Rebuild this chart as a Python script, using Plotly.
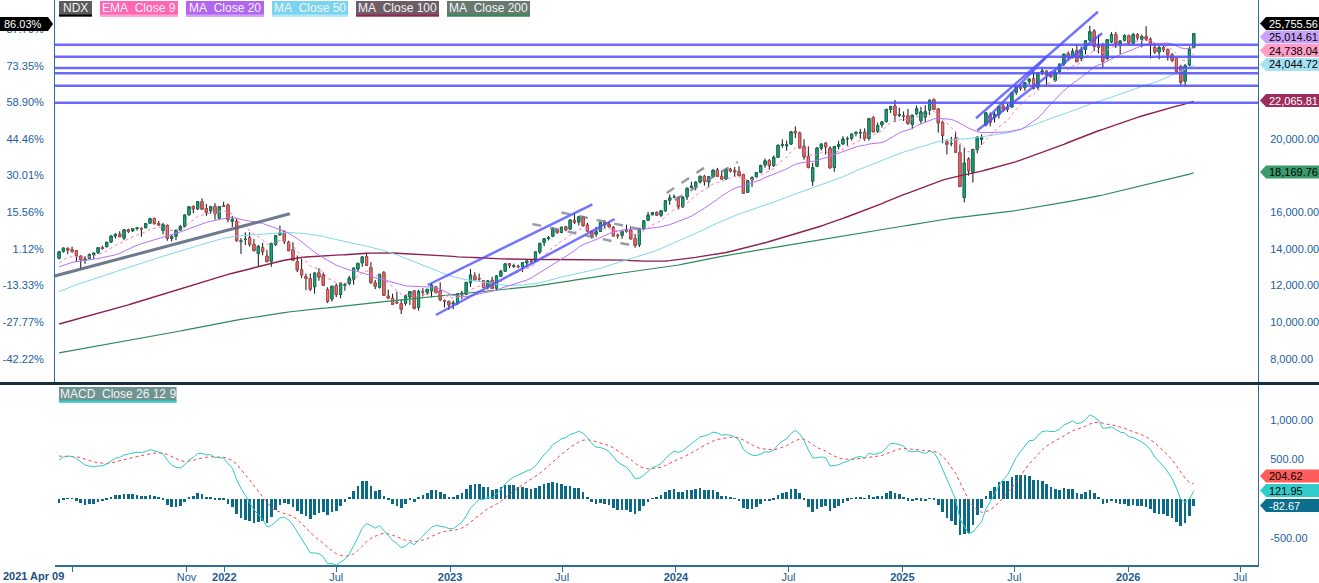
import plotly.graph_objects as go
import pandas as pd

# ---------------- data ----------------
FIRST_DATE = "2021-04-09"

# weekly closes before the visible window (indicator warm-up), 2017-06-16 .. 2021-04-02
history_closes = [
    5680, 5780, 5650, 5690, 5880, 5960, 5930, 5920, 5830, 5790, 5840, 5990, 5930, 6010, 5960, 5990,
    6080, 6110, 6100, 6290, 6330, 6340, 6320, 6420, 6290, 6330, 6440, 6450, 6400,
    6650, 6770, 6830, 7010, 6700, 6410, 6820, 6900, 6910, 7150, 7020, 6520, 6580, 6430, 6650, 6690,
    6700, 6830, 6970, 6930, 6990, 7110, 7150, 7250, 7180, 7040, 7250, 7370, 7350, 7160, 7350, 7340,
    7300, 7410, 7620, 7430, 7490, 7460, 7630, 7360, 7050, 6980, 6680, 6860, 6870, 6720, 6500, 6950,
    6610, 6550, 6060, 6330,
    6480, 6630, 6800, 6750, 6850, 6890, 7010, 7080, 7120, 6910, 7270, 7200, 7380, 7560, 7630, 7660,
    7830, 7840, 7560, 7490, 7330, 7130, 7440, 7460, 7630, 7670, 7820, 7940, 7850, 7980, 7640, 7620,
    7570, 7440, 7660, 7810, 7840, 7820, 7690, 7730, 7870, 7850, 8000, 8170, 8230, 8390, 8340, 8410,
    8430, 8520, 8720, 8760,
    8790, 8950, 9160, 9090, 8990, 9400, 9620, 9450, 8460, 8530, 7880, 6990, 7500, 7530, 8230, 8830,
    8780, 8720, 9120, 9150, 9330, 9560, 9820, 9590, 10030, 9850, 10340, 10770, 10670, 10460, 10900,
    11140, 11180, 11630, 12110, 11620, 11090, 10940, 11150, 11250, 11850, 11850, 11650, 11050, 12020,
    11940, 11900, 12260, 12470, 12380, 12750, 12800,
    12890, 13100, 12800, 13370, 12920, 13610, 13800, 13540, 12910, 12670, 12890, 12920, 12980, 13480,
]

opens = [
    # 2021
    13480, 13870, 14030, 13960, 13900, 13600, 13380, 13480, 13690, 13790, 14070, 14120, 14370, 14700,
    14800, 14580, 15040, 14990, 15110, 15120, 15150, 15400, 15660, 15380, 15000, 15280, 14560, 14690,
    15030, 15240, 15860, 16310, 16190, 16580, 16200, 16080, 16320, 15680, 16350,
    # 2022
    16400, 15500, 15500, 14400, 14520, 14600, 14250, 13750, 14060, 13600, 13320, 14240, 14780, 14950,
    14350, 13950, 13300, 12850, 12480, 12370, 11930, 12690, 12560, 11770, 11260, 11990, 11510, 12000,
    12110, 12340, 12900, 13240, 13580, 12980, 12140, 11900, 12700, 11410, 11300, 11080, 11000, 11030,
    11370, 11700, 10800, 11650, 11620, 11700, 11920, 11700, 11180, 11130,
    # 2023
    11000, 11050, 11520, 11520, 12150, 12520, 12380, 12260, 11920, 12280, 11850, 12510, 12780, 13180,
    13050, 13050, 13020, 13240, 13350, 13350, 13830, 14340, 14560, 14690, 15040, 14900, 15200, 15080,
    15560, 15460, 15750, 15300, 14950, 14800, 14960, 15440, 15340, 15180, 14740, 14740, 14970, 15010,
    14560, 14230, 15110, 15560, 15860, 15990, 15830, 16080, 16650, 16820,
    # 2024
    16820, 16290, 16840, 17350, 17420, 17650, 17960, 17660, 17940, 18300, 17960, 17820, 18340, 18280,
    18230, 18050, 17090, 17770, 17940, 18180, 18590, 18820, 18550, 19000, 19660, 19630, 19720, 20420,
    20330, 19600, 19050, 17700, 18510, 19500, 19770, 19500, 18450, 19590, 19730, 20020, 20040, 20300,
    20330, 20380, 20030, 21170, 20430, 20780, 20950, 21620, 21800, 21300,
    # 2025
    21250, 21270, 20800, 21380, 21000, 21200, 21580, 22150, 21640, 20900, 19850, 19750, 20050, 19260,
    16800, 18900, 18170, 19430, 19980, 20780, 21300, 21190, 21330, 21800, 21720, 21750, 22540, 22830,
    22800, 23140, 23300, 22830, 23650, 23710, 23520, 23200, 23700, 24100, 24660, 24520, 24830, 24400,
    24890, 25400, 25900, 25150, 25100, 24400, 25300, 25700, 25200, 25400,
    # 2026
    25640, 25230, 25700, 25450, 25600, 25450, 25000, 24750, 25000, 24880, 24600, 24400, 23950, 23150,
    24050, 25000,
]

highs = [
    13850, 14060, 14070, 14120, 13920, 13640, 13600, 13750, 13780, 14080, 14170, 14380, 14720, 14850,
    14960, 15080, 15100, 15110, 15170, 15170, 15390, 15700, 15700, 15520, 15420, 15330, 14750, 15040,
    15310, 15860, 16340, 16380, 16570, 16760, 16450, 16310, 16500, 16330, 16570,
    16470, 15790, 15640, 14590, 14900, 14900, 14540, 14200, 14330, 13950, 14310, 14760, 15270, 15010,
    14440, 14360, 13640, 13470, 12650, 12650, 12690, 12940, 12700, 11900, 11960, 12110, 12170, 12140,
    12530, 12950, 13210, 13560, 13720, 13270, 12300, 12620, 12790, 11770, 11550, 11660, 11230, 11440,
    11700, 11750, 11760, 11850, 11800, 12120, 11980, 12170, 11230, 11170,
    11180, 11560, 11710, 12190, 12900, 12720, 12650, 12300, 12270, 12470, 12560, 12860, 13190, 13220,
    13190, 13140, 13270, 13350, 13430, 13840, 14320, 14590, 14700, 15190, 15120, 15200, 15260, 15620,
    15930, 15760, 15800, 15420, 15010, 15200, 15440, 15560, 15480, 15240, 14840, 15000, 15320, 15230,
    14800, 15110, 15540, 16020, 16020, 16050, 16110, 16660, 16970, 16970,
    16840, 16840, 17340, 17670, 17690, 18000, 18040, 17980, 18310, 18420, 18270, 18420, 18420, 18470,
    18510, 18100, 17760, 17960, 18190, 18600, 18930, 18910, 19090, 19680, 19980, 19910, 20400, 20690,
    20400, 19990, 19600, 18700, 19530, 19760, 19830, 19600, 19630, 19900, 20150, 20140, 20300, 20420,
    20550, 20580, 21130, 21250, 20900, 20980, 21630, 21790, 22130, 21710,
    21500, 21640, 21310, 21830, 21760, 21840, 22140, 22220, 21700, 21000, 19990, 20120, 20400, 19700,
    19500, 19000, 19460, 20140, 20250, 21450, 21450, 21480, 21810, 21910, 21940, 22560, 22890, 22900,
    23090, 23310, 23720, 23660, 23920, 23730, 23700, 23700, 24100, 24650, 24780, 24950, 25150, 25050,
    25380, 26180, 26000, 25700, 25250, 25450, 25830, 25850, 25400, 25720,
    25700, 25800, 25780, 25700, 26160, 25550, 25250, 25100, 25100, 24950, 24700, 24450, 24050, 24100,
    25050, 25780,
]

lows = [
    13420, 13790, 13710, 13780, 13290, 12930, 13180, 13450, 13450, 13720, 13950, 14080, 14330, 14560,
    14650, 14470, 14860, 14920, 15000, 14660, 15130, 15390, 15350, 15240, 14790, 14440, 14400, 14470,
    15000, 15170, 15820, 15950, 16120, 16150, 15800, 15920, 15590, 15600, 16300,
    15450, 15200, 14400, 13720, 14200, 14120, 13860, 13020, 13650, 13280, 13020, 14150, 14700, 14270,
    13870, 13370, 12730, 12410, 11740, 11690, 11550, 12260, 11980, 11040, 11130, 11370, 11300, 11710,
    12010, 12040, 12780, 13020, 13090, 12140, 11800, 11830, 11490, 11250, 10970, 11020, 10440, 10900,
    10940, 10690, 10620, 11400, 11480, 11350, 11580, 11150, 10800, 10670,
    10700, 10930, 11250, 11470, 11920, 12240, 12260, 11880, 11780, 11830, 11750, 12450, 12740, 12960,
    12950, 12940, 12730, 12990, 13170, 13270, 13720, 14150, 14460, 14640, 14820, 14850, 14960, 15060,
    15360, 15280, 15200, 14950, 14560, 14650, 14930, 15090, 15180, 14720, 14560, 14550, 14880, 14540,
    14060, 14100, 15030, 15530, 15850, 15800, 15730, 16030, 16400, 16780,
    16170, 16230, 16670, 17290, 17200, 17570, 17450, 17350, 17890, 17960, 17800, 17770, 18170, 17960,
    17970, 17010, 17080, 17380, 17920, 18130, 18430, 18320, 18470, 18990, 19520, 19360, 19680, 20050,
    19460, 18870, 18400, 17430, 18460, 19380, 19150, 18400, 18210, 19430, 19690, 19630, 19920, 20140,
    20010, 19890, 19910, 20380, 20330, 20620, 20900, 21410, 20920, 21190,
    20980, 20770, 20540, 21300, 20840, 20930, 21310, 21600, 20350, 19770, 19160, 19600, 19280, 17400,
    16540, 18000, 17620, 19220, 19680, 20680, 20690, 20900, 21110, 21500, 21480, 21700, 22400, 22640,
    22630, 22970, 22700, 22690, 23490, 22950, 23330, 23120, 23580, 23980, 24340, 24400, 24200, 24250,
    24620, 25340, 24800, 24680, 23850, 24300, 25250, 24970, 24630, 25330,
    25150, 25150, 25380, 25000, 25350, 24400, 24650, 24350, 24750, 24280, 24200, 23600, 22950, 22860,
    23980, 24950,
]

closes = [
    13845, 14041, 13933, 13860, 13620, 13400, 13440, 13690, 13770, 14070, 14030, 14360, 14700, 14790,
    14660, 15040, 14960, 15100, 15150, 15090, 15380, 15650, 15370, 15310, 15320, 14570, 14680, 15020,
    15210, 15850, 16300, 16180, 16570, 16160, 15990, 16300, 15920, 16300, 16320,
    15600, 15610, 14440, 14440, 14520, 14250, 13900, 14140, 13840, 13300, 14300, 14730, 14860, 14420,
    13900, 13380, 12850, 12580, 12380, 11800, 12680, 12450, 12010, 11130, 11960, 11500, 12130, 12040,
    12400, 12950, 13210, 13560, 13100, 12140, 11950, 12610, 11450, 11310, 10970, 11040, 10700, 11430,
    11670, 10750, 11680, 11640, 11790, 12020, 11600, 11220, 11150, 10940,
    11040, 11540, 11570, 12170, 12570, 12300, 12360, 11900, 12250, 11830, 12520, 12770, 13180, 13090,
    13080, 13030, 13250, 13340, 13340, 13830, 14300, 14550, 14620, 15080, 14890, 15180, 15040, 15570,
    15440, 15750, 15270, 14970, 14700, 14940, 15430, 15320, 15200, 14700, 14720, 14960, 14990, 14540,
    14180, 15100, 15530, 15840, 15980, 15840, 16080, 16620, 16780, 16830,
    16300, 16830, 17310, 17420, 17640, 17960, 17690, 17940, 18300, 17960, 17810, 18340, 18250, 18200,
    18000, 17040, 17720, 17890, 18160, 18550, 18810, 18540, 19000, 19660, 19700, 19680, 20390, 20330,
    19520, 19020, 18440, 18430, 19510, 19720, 19570, 18420, 19580, 19690, 20000, 20020, 20270, 20360,
    20350, 20030, 21120, 20390, 20740, 20930, 21620, 21780, 21290, 21330,
    21240, 20850, 21300, 21650, 21480, 21490, 22120, 21610, 20880, 20200, 19700, 19750, 19280, 17400,
    18690, 18260, 19430, 20100, 20060, 21430, 20920, 21340, 21760, 21630, 21630, 22530, 22870, 22780,
    23070, 23270, 22760, 23620, 23710, 23500, 23420, 23650, 24090, 24630, 24500, 24790, 24220, 24820,
    25360, 25860, 25060, 25010, 24240, 25430, 25690, 25200, 25350, 25640,
    25230, 25700, 25530, 25600, 25450, 25200, 24750, 25000, 24880, 24600, 24300, 23700, 23100, 24000,
    24900, 25755.56,
]

# horizontal support / resistance levels drawn on the chart
hline_levels = [25151, 24495, 23878, 23594, 22911, 21983]
# trend lines: (date0, price0, date1, price1)
blue_trendlines = [
    ("2022-11-26", 12025, "2023-08-19", 16433),
    ("2022-12-09", 10387, "2023-09-24", 15630),
    ("2025-04-30", 21131, "2025-11-13", 26953),
    ("2025-05-02", 20459, "2025-11-20", 25773),
    ("2025-05-19", 21147, "2025-08-21", 24462),
]
gray_trendlines = [("2021-04-02", 12517, "2022-04-17", 15920)]
dashed_trendlines = [
    ("2023-06-30", 15985, "2023-11-11", 15030),
    ("2023-05-14", 15357, "2023-10-30", 14128),
    ("2023-12-17", 17050, "2024-02-27", 18689),
    ("2023-12-30", 16668, "2024-04-10", 18744),
]

price_ticks = [8000, 10000, 12000, 14000, 16000, 18000, 20000]
price_tick_text = ["8,000.00", "10,000.00", "12,000.00", "14,000.00", "16,000.00", "", "20,000.00"]
pct_ticks = [8000, 10000, 12000, 14000, 16000, 18000, 20000, 22000, 24000, 26000]
pct_tick_text = ["-42.22%", "-27.77%", "-13.33%", "1.12%", "15.56%", "30.01%", "44.46%",
                 "58.90%", "73.35%", "87.79%"]
macd_ticks = [-500, 500, 1000]
macd_tick_text = ["-500.00", "500.00", "1,000.00"]

x_tick_dates = ["2021-05-01", "2021-11-01", "2022-01-01", "2022-07-01", "2023-01-01", "2023-07-01",
                "2024-01-01", "2024-07-01", "2025-01-01", "2025-07-01", "2026-01-01", "2026-07-01"]
x_tick_text = ["", "Nov", "<b>2022</b>", "Jul", "<b>2023</b>", "Jul", "<b>2024</b>", "Jul",
               "<b>2025</b>", "Jul", "<b>2026</b>", "Jul"]

price_tags = [  # text, background, text colour, tag centre (px)
    ("25,755.56", "#000000", "#ffffff", 23.5),
    ("25,014.61", "#c8a2f8", "#000000", 37.0),
    ("24,738.04", "#ff9ec8", "#000000", 50.5),
    ("24,044.72", "#a6e2f4", "#000000", 64.5),
    ("22,065.81", "#9c2d5c", "#ffffff", 100.5),
    ("18,169.76", "#3a9c6c", "#000000", 172.0),
    ("204.62", "#ff5c5c", "#000000", 476.0),
    ("121.95", "#33cccc", "#000000", 490.5),
    ("-82.67", "#0b6e8c", "#ffffff", 505.5),
]
legend_items = [  # text, box colour, underline colour, x0, x1 (px)
    ("NDX", "#5c5c5c", "#000000", 59, 92),
    ("EMA\u00a0 Close 9", "#ff66b3", "#ffa0d0", 100, 178),
    ("MA\u00a0 Close 20", "#b266f0", "#d0a0ff", 186, 264),
    ("MA\u00a0 Close 50", "#7ad4ef", "#b0e8f8", 272, 348),
    ("MA\u00a0 Close 100", "#6e5c66", "#992255", 356, 439),
    ("MA\u00a0 Close 200", "#667a70", "#2e8b57", 447, 530),
]

# ---------------- indicators ----------------
dates = pd.date_range(FIRST_DATE, periods=len(closes), freq="7D")
n_hist = len(history_closes)
allc = pd.Series(history_closes + closes, dtype=float)
ema9 = allc.ewm(span=9, adjust=False).mean().iloc[n_hist:].values
ma20 = allc.rolling(20).mean().iloc[n_hist:].values
ma50 = allc.rolling(50).mean().iloc[n_hist:].values
ma100 = allc.rolling(100).mean().iloc[n_hist:].values
ma200 = allc.rolling(200).mean().iloc[n_hist:].values
ema12 = allc.ewm(span=12, adjust=False).mean()
ema26 = allc.ewm(span=26, adjust=False).mean()
macd_full = ema12 - ema26
signal_full = macd_full.ewm(span=9, adjust=False).mean()
macd = macd_full.iloc[n_hist:].values
signal = signal_full.iloc[n_hist:].values
hist = macd - signal
body_hi = [max(o, c) for o, c in zip(opens, closes)]
body_lo = [min(o, c) for o, c in zip(opens, closes)]

# ---------------- figure ----------------
W, H = 1319, 583
ML, MR, MT, MB = 55, 61, 0, 18
PW, PH = W - ML - MR, H - MT - MB


def px(xp):
    return (xp - ML) / PW


def py(yp):
    return (PH - (yp - MT)) / PH


FONT = "Liberation Sans, Arial, sans-serif"
AXC = "#2d7095"
LBL = "#2260a0"

fig = go.Figure()

# wicks (black)
fig.add_trace(go.Candlestick(
    x=dates, open=opens, high=highs, low=lows, close=closes,
    increasing=dict(line=dict(color="#111111", width=1), fillcolor="#111111"),
    decreasing=dict(line=dict(color="#111111", width=1), fillcolor="#111111"),
    hoverinfo="skip", showlegend=False, xaxis="x", yaxis="y"))
# bodies
fig.add_trace(go.Candlestick(
    x=dates, open=opens, high=body_hi, low=body_lo, close=closes,
    increasing=dict(line=dict(color="#0f7a58", width=1), fillcolor="#22aa80"),
    decreasing=dict(line=dict(color="#c04a4a", width=1), fillcolor="#e87878"),
    hoverinfo="skip", showlegend=False, xaxis="x", yaxis="y"))

for vals, col, wdt, dash in [
    (ma200, "#2e8b57", 1.2, "solid"),
    (ma100, "#8e1f52", 1.4, "solid"),
    (ma50, "#7fd6f0", 1.0, "solid"),
    (ma20, "#b870f5", 1.0, "solid"),
    (ema9, "#ff78bb", 1.0, "dot"),
]:
    fig.add_trace(go.Scatter(x=dates, y=vals, mode="lines", line=dict(color=col, width=wdt, dash=dash),
                             hoverinfo="skip", showlegend=False, xaxis="x", yaxis="y"))

# dummy trace for percent axis
fig.add_trace(go.Scatter(x=[dates[0]], y=[closes[0]], mode="markers", marker=dict(opacity=0, size=1),
                         hoverinfo="skip", showlegend=False, xaxis="x", yaxis="y3"))

# MACD panel
fig.add_trace(go.Bar(x=dates, y=hist, width=4.3 * 86400000, marker=dict(color="#0b6b87", line=dict(width=0)),
                     hoverinfo="skip", showlegend=False, xaxis="x", yaxis="y2"))
fig.add_trace(go.Scatter(x=dates, y=signal, mode="lines", line=dict(color="#ff4040", width=1, dash="dot"),
                         hoverinfo="skip", showlegend=False, xaxis="x", yaxis="y2"))
fig.add_trace(go.Scatter(x=dates, y=macd, mode="lines", line=dict(color="#2ec8c8", width=1),
                         hoverinfo="skip", showlegend=False, xaxis="x", yaxis="y2"))

shapes = []
for lv in hline_levels:
    shapes.append(dict(type="line", xref="paper", yref="y", x0=0, x1=1, y0=lv, y1=lv,
                       line=dict(color="rgba(80,80,255,0.85)", width=2.5), layer="above"))
for d0, v0, d1, v1 in blue_trendlines:
    shapes.append(dict(type="line", xref="x", yref="y", x0=d0, y0=v0, x1=d1, y1=v1,
                       line=dict(color="rgba(80,80,255,0.8)", width=2.5), layer="above"))
for d0, v0, d1, v1 in gray_trendlines:
    shapes.append(dict(type="line", xref="x", yref="y", x0=d0, y0=v0, x1=d1, y1=v1,
                       line=dict(color="rgba(85,100,120,0.85)", width=3), layer="above"))
for d0, v0, d1, v1 in dashed_trendlines:
    shapes.append(dict(type="line", xref="x", yref="y", x0=d0, y0=v0, x1=d1, y1=v1,
                       line=dict(color="rgba(120,120,145,0.75)", width=2.5, dash="dash"), layer="above"))

# panel separator
shapes.append(dict(type="line", xref="paper", yref="paper", x0=px(0), x1=px(W), y0=py(383.5), y1=py(383.5),
                   line=dict(color="#16303f", width=3), layer="above"))

annotations = []
# price / MACD tags on right
for text, bg, fg, yc in price_tags:
    t, b = yc - 6.5, yc + 6.5
    path = "M {} {} L {} {} L {} {} L {} {} L {} {} Z".format(
        px(1260), py(yc), px(1266), py(t), px(W), py(t), px(W), py(b), px(1266), py(b))
    shapes.append(dict(type="path", xref="paper", yref="paper", path=path, fillcolor=bg,
                       line=dict(width=0), layer="above"))
    annotations.append(dict(xref="paper", yref="paper", x=px(1267), y=py(yc), xanchor="left", yanchor="middle",
                            text=text, showarrow=False, font=dict(family=FONT, size=11, color=fg)))

# left percent tag
yc = 24
path = "M {} {} L {} {} L {} {} L {} {} L {} {} Z".format(
    px(0), py(yc - 7), px(48), py(yc - 7), px(53), py(yc), px(48), py(yc + 7), px(0), py(yc + 7))
shapes.append(dict(type="path", xref="paper", yref="paper", path=path, fillcolor="#000000",
                   line=dict(width=0), layer="above"))
annotations.append(dict(xref="paper", yref="paper", x=px(44), y=py(yc), xanchor="right", yanchor="middle",
                        text="86.03%", showarrow=False, font=dict(family=FONT, size=11, color="#ffffff")))

# legend boxes
for text, bg, ul, x0, x1 in legend_items:
    shapes.append(dict(type="rect", xref="paper", yref="paper", x0=px(x0), x1=px(x1), y0=py(16.5), y1=py(1),
                       fillcolor=bg, line=dict(width=0), layer="above"))
    shapes.append(dict(type="rect", xref="paper", yref="paper", x0=px(x0), x1=px(x1), y0=py(16.5), y1=py(14.5),
                       fillcolor=ul, line=dict(width=0), layer="above"))
    annotations.append(dict(xref="paper", yref="paper", x=px((x0 + x1) / 2), y=py(8), xanchor="center",
                            yanchor="middle", text=text, showarrow=False,
                            font=dict(family=FONT, size=12, color="#f4f4f4")))
# MACD label
shapes.append(dict(type="rect", xref="paper", yref="paper", x0=px(59), x1=px(176.5), y0=py(402.5), y1=py(387),
                   fillcolor="#6f9592", line=dict(width=0), layer="above"))
shapes.append(dict(type="rect", xref="paper", yref="paper", x0=px(59), x1=px(176.5), y0=py(402.5), y1=py(400.5),
                   fillcolor="#33cccc", line=dict(width=0), layer="above"))
annotations.append(dict(xref="paper", yref="paper", x=px(118), y=py(394), xanchor="center", yanchor="middle",
                        text="MACD\u00a0 Close 26 12 9", showarrow=False,
                        font=dict(family=FONT, size=12, color="#f4f4f4")))
# start date label
annotations.append(dict(xref="paper", yref="paper", x=px(1), y=py(575.5), xanchor="left", yanchor="middle",
                        text="<b>2021 Apr 09</b>", showarrow=False,
                        font=dict(family=FONT, size=11, color="#1d4f80")))

main_dom = [(PH - 383) / PH, 1]
macd_dom = [0, (PH - 385) / PH]
price_range = [6672, 27592]

fig.update_layout(
    width=W, height=H, margin=dict(l=ML, r=MR, t=MT, b=MB, autoexpand=False),
    paper_bgcolor="white", plot_bgcolor="white", hovermode=False, showlegend=False,
    font=dict(family=FONT, size=11, color=LBL),
    bargap=0,
    xaxis=dict(type="date", range=["2021-04-02 10:00", "2026-07-29 19:00"], anchor="y2", domain=[0, 1],
               automargin=False,
               showline=True, linecolor=AXC, linewidth=1.5, ticks="outside", ticklen=5, tickcolor=AXC,
               ticklabelstandoff=-4,
               tickvals=x_tick_dates, ticktext=x_tick_text, tickfont=dict(family=FONT, size=11, color="#1d5a90"),
               showgrid=False, zeroline=False, rangeslider=dict(visible=False)),
    yaxis=dict(domain=main_dom, side="right", range=price_range, anchor="x", tickvals=price_ticks,
               automargin=False,
               ticktext=price_tick_text, showline=True, linecolor=AXC, linewidth=1, showgrid=False,
               zeroline=False, ticks="", ticklabelstandoff=9, tickfont=dict(family=FONT, size=11, color=LBL)),
    yaxis3=dict(overlaying="y", side="left", range=price_range, anchor="x", tickvals=pct_ticks,
                automargin=False,
                ticktext=pct_tick_text, showline=True, linecolor=AXC, linewidth=1, showgrid=False,
                zeroline=False, ticks="", ticklabelstandoff=8, tickfont=dict(family=FONT, size=11, color=LBL)),
    yaxis2=dict(domain=macd_dom, side="right", range=[-835, 1439], anchor="x", tickvals=macd_ticks,
                automargin=False,
                ticktext=macd_tick_text, showline=True, linecolor=AXC, linewidth=1, showgrid=False,
                zeroline=False, ticks="", ticklabelstandoff=9, tickfont=dict(family=FONT, size=11, color=LBL)),
    shapes=shapes, annotations=annotations,
)

fig.write_html("out.html", config={"displayModeBar": False},
               post_script="document.body.style.margin='0';")
